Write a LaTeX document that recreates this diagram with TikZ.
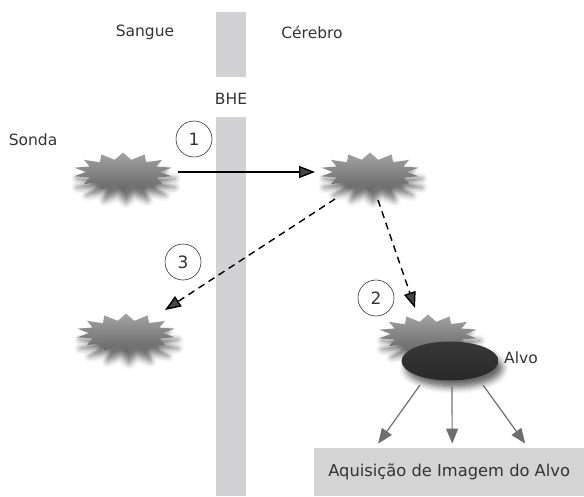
\documentclass[tikz,border=0pt]{standalone}
\usepackage{fontspec}
\setmainfont{DejaVu Sans}
\usetikzlibrary{shapes.geometric,shadows.blur,arrows.meta,calc}
\definecolor{barcol}{HTML}{D2D2D4}
\definecolor{boxcol}{HTML}{D4D4D4}
\definecolor{arrgrey}{HTML}{6E6E6E}
\definecolor{txt}{HTML}{333333}
\tikzset{
  lbl/.style={font=\fontsize{15.5}{18}\selectfont, text=txt},
  probespot/.style={inner sep=0pt, minimum width=100pt, minimum height=39pt},
  probe/.style={top color=black!36, bottom color=black!60, draw=none,
     blur shadow={shadow xshift=3pt, shadow yshift=-11pt, shadow blur radius=6pt, shadow opacity=55}},
  numcirc/.style={circle, draw=black!80, line width=0.6pt, minimum size=36pt, inner sep=0pt, font=\fontsize{17}{20}\selectfont, text=txt},
  solidarrow/.style={line width=1.4pt, -{Triangle[length=16pt,width=12pt]}},
  dasharrow/.style={line width=1.4pt, dash pattern=on 7pt off 5pt, -{Triangle[length=16pt,width=12pt]}},
  greyarrow/.style={draw=arrgrey, line width=1.2pt, -{Triangle[length=15pt,width=12pt]}, arrgrey},
}
\newcommand\probeshape[1]{%
  \path[probe, shift={(#1)}] plot[domain=0:27, samples=28, variable=\k]
    ({(50-13*mod(\k,2))*cos(90+\k*360/28)},{(19.5-7*mod(\k,2))*sin(90+\k*360/28)}) -- cycle;}
\begin{document}
\begin{tikzpicture}[x=1pt,y=1pt]
\useasboundingbox (0,0) rectangle (584,496);
% barrier
\fill[barcol] (216,484) rectangle (246,419);
\fill[barcol] (216,379) rectangle (246,0);
\node[lbl] (bhe) at (231,397) {BHE};
\node[lbl] (sangue) at (145,464) {Sangue};
\node[lbl] (cerebro) at (312,464) {Cérebro};
\node[lbl] (sonda) at (33,356) {Sonda};
% probes
\node[probespot] (s1) at (123,324) {};
\node[probespot] (s2) at (370,324) {};
\node[probespot] (s3) at (126,163) {};
\node[probespot] (s4) at (428,162) {};
\probeshape{s1}
\probeshape{s2}
\probeshape{s3}
\probeshape{s4}
% target
\node[ellipse, minimum width=97pt, minimum height=39pt, inner sep=0pt, top color=black!78, bottom color=black!84,
  blur shadow={shadow xshift=4pt, shadow yshift=-7pt, shadow blur radius=6pt, shadow opacity=60}] (alvo) at (450,135) {};
\node[lbl] (alvolbl) at (521,138) {Alvo};
% box
\node[fill=boxcol, minimum width=270pt, minimum height=48pt, anchor=south west, lbl, font=\fontsize{16.3}{19}\selectfont] (box) at (314,0) {Aquisição de Imagem do Alvo};
% circles
\node[numcirc] (c1) at (194,357) {1};
\node[numcirc] (c2) at (376,198) {2};
\node[numcirc] (c3) at (183,234) {3};
% arrows
\draw[solidarrow] ($(s1)+(55,0)$) -- ($(s2)+(-55,0)$);
\draw[dasharrow] ($(s2)+(8,-28)$) -- ($(s4)+(-13,26)$);
\draw[dasharrow] ($(s2)+(-35,-27)$) -- ($(s3)+(39,23)$);
\draw[greyarrow] ($(alvo)+(-30,-24)$) -- ($(box.north)+(-71,4)$);
\draw[greyarrow] ($(alvo)+(2,-26)$) -- ($(box.north)+(3,4)$);
\draw[greyarrow] ($(alvo)+(33,-24)$) -- ($(box.north)+(76,4)$);
\end{tikzpicture}
\end{document}
